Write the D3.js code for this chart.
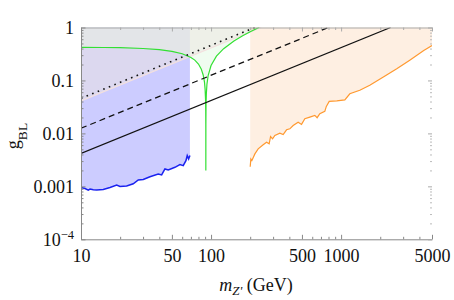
<!DOCTYPE html>
<html><head><meta charset="utf-8">
<script src="https://cdn.jsdelivr.net/npm/d3@7"></script>
<style>
body{margin:0;background:#fff}
svg{display:block}
text{font-family:"Liberation Serif","Times New Roman",serif;fill:#111}
</style>
</head><body>
<svg id="c" width="454" height="300"></svg>
<script>
// ---------- data ----------
const xMajorTicks = [10, 50, 100, 500, 1000, 5000];
const xMajorLabels = ["10", "50", "100", "500", "1000", "5000"];
const xMinorTicks = [20, 30, 40, 60, 70, 80, 90, 200, 300, 400, 600, 700, 800, 900, 2000, 3000, 4000];
const yMajorTicks = [1e-4, 1e-3, 1e-2, 0.1, 1];
const yMajorLabels = ["10^-4", "0.001", "0.01", "0.1", "1"];
const yMinorTicks = [2e-4,3e-4,4e-4,5e-4,6e-4,7e-4,8e-4,9e-4,2e-3,3e-3,4e-3,5e-3,6e-3,7e-3,8e-3,9e-3,0.02,0.03,0.04,0.05,0.06,0.07,0.08,0.09,0.2,0.3,0.4,0.5,0.6,0.7,0.8,0.9];

// blue curve (low-mass search)
const blueM = [10, 10.73, 11.38, 11.73, 12.43, 13.20, 14.83, 16.71, 18.81, 19.94, 22.44, 25.22, 27.56, 30.11, 33.90, 39.26, 41.70, 44.20, 46.86, 52.77, 57.65, 61.10, 64.10, 65.59, 67.24, 68.80];
const blueG = [0.000953, 0.000912, 0.000851, 0.000889, 0.000861, 0.000851, 0.000873, 0.000953, 0.001059, 0.000996, 0.001014, 0.00112, 0.00132, 0.00135, 0.00152, 0.00171, 0.00164, 0.00213, 0.00204, 0.00229, 0.00257, 0.00246, 0.00306, 0.00381, 0.00330, 0.00381];

// orange curve (high-mass search)
const orangeM = [200, 202.3, 206.0, 217.3, 230.3, 251.6, 267.2, 279.8, 286.9, 297.2, 309.5, 338.1, 358.5, 380.7, 403.5, 427.8, 467.4, 496.3, 526.1, 574.8, 628.0, 654.1, 686.1, 749.4, 770, 810, 926.8, 1068, 1167, 1392, 1662, 2128, 2679, 3372, 4319, 5000];
const orangeG = [0.00235, 0.00327, 0.00306, 0.00410, 0.00510, 0.00608, 0.00681, 0.00635, 0.00874, 0.00790, 0.00912, 0.0101, 0.00953, 0.0117, 0.0122, 0.0141, 0.0163, 0.0148, 0.0189, 0.0203, 0.0219, 0.0198, 0.0236, 0.0261, 0.0324, 0.0403, 0.0412, 0.0430, 0.0560, 0.0652, 0.0811, 0.1175, 0.1667, 0.2417, 0.3661, 0.455];

// green curve (Z-pole constraint)
const greenM = [10, 15, 20, 30, 40, 50, 60, 70, 75, 80, 84, 87, 89, 90, 90.7, 91.0, 91.15, 91.19, 91.25, 91.5, 92, 93, 95, 100, 110, 125, 150, 175, 200, 225, 235];
const greenG = [0.422, 0.419, 0.415, 0.401, 0.382, 0.355, 0.320, 0.272, 0.242, 0.204, 0.165, 0.127, 0.093, 0.068, 0.044, 0.027, 0.012, 0.002, 0.015, 0.035, 0.056, 0.085, 0.124, 0.191, 0.287, 0.398, 0.555, 0.696, 0.830, 0.959, 1.01];

// grey excluded region lower edge
const greyM = [10, 243];
const greyG = [0.041, 1];

// reference lines
const solidM = [10, 2400];   const solidG = [0.00417, 1];
const dashedM = [10, 800];   const dashedG = [0.0125, 1];
const dottedM = [10, 217];   const dottedG = [0.046, 1];

// ---------- drawing ----------
const W = 454, H = 300;
const L = 81, R = 432, T = 27.5, B = 239.3;
const svg = d3.select("#c");
const x = d3.scaleLog().domain([10, 5000]).range([L, R]);
const y = d3.scaleLog().domain([1e-4, 1]).range([B, T]);
const zip = (a, b) => a.map((v, i) => [v, b[i]]);
const line = d3.line().x(d => x(d[0])).y(d => y(d[1]));

svg.append("defs").append("clipPath").attr("id", "clip")
  .append("rect").attr("x", L).attr("y", T).attr("width", R - L).attr("height", B - T);
const plot = svg.append("g").attr("clip-path", "url(#clip)");

// filled regions
const bluePoly = zip(blueM, blueG).concat([[blueM[blueM.length - 1], 1.2], [blueM[0], 1.2]]);
plot.append("path").attr("d", line(bluePoly) + "Z").attr("fill", "rgba(0,0,255,0.2)");

const greenPoly = zip(greenM, greenG).concat([[greenM[greenM.length - 1], 1.2], [greenM[0], 1.2]]);
plot.append("path").attr("d", line(greenPoly) + "Z").attr("fill", "rgba(229,250,229,0.57)");

const greyPoly = zip(greyM, greyG).concat([[greyM[greyM.length - 1], 1.2], [greyM[0], 1.2]]);
plot.append("path").attr("d", line(greyPoly) + "Z").attr("fill", "rgba(236,228,224,0.5)");

const orangePoly = zip(orangeM, orangeG).concat([[orangeM[orangeM.length - 1], 1.2], [orangeM[0], 1.2]]);
plot.append("path").attr("d", line(orangePoly) + "Z").attr("fill", "rgba(250,150,60,0.15)");

// edges and curves
plot.append("path").attr("d", line(zip(greyM, greyG))).attr("fill", "none")
  .attr("stroke", "#f3e0de").attr("stroke-width", 1.2);
plot.append("path").attr("d", line(zip(orangeM, orangeG))).attr("fill", "none")
  .attr("stroke", "#ff9930").attr("stroke-width", 1.2);
plot.append("path").attr("d", line(zip(blueM, blueG))).attr("fill", "none")
  .attr("stroke", "#1a22f0").attr("stroke-width", 1.5);
plot.append("path").attr("d", line(zip(greenM, greenG))).attr("fill", "none")
  .attr("stroke", "#33e033").attr("stroke-width", 1.2);

plot.append("path").attr("d", line(zip(solidM, solidG))).attr("fill", "none")
  .attr("stroke", "#111").attr("stroke-width", 1.2);
plot.append("path").attr("d", line(zip(dashedM, dashedG))).attr("fill", "none")
  .attr("stroke", "#111").attr("stroke-width", 1.3).attr("stroke-dasharray", "6,4");
plot.append("path").attr("d", line(zip(dottedM, dottedG))).attr("fill", "none")
  .attr("stroke", "#111").attr("stroke-width", 1.6).attr("stroke-dasharray", "1.6,4.4");

// ---------- axes ----------
function style(g, col) {
  g.selectAll(".domain").attr("stroke", col);
  g.selectAll(".tick line").attr("stroke", col);
}
// bottom
const bx = svg.append("g").attr("transform", `translate(0,${B})`)
  .call(d3.axisBottom(x).tickValues(xMajorTicks).tickFormat((d, i) => xMajorLabels[i])
    .tickSizeInner(-4.5).tickSizeOuter(0).tickPadding(10));
style(bx, "#888");
bx.selectAll("text").attr("font-size", 18).attr("fill", "#111")
  .attr("font-family", "'Liberation Serif', serif");
svg.append("g").attr("transform", `translate(0,${B})`)
  .call(d3.axisBottom(x).tickValues(xMinorTicks).tickFormat("").tickSizeInner(-2.5).tickSizeOuter(0))
  .call(g => { g.select(".domain").remove(); g.selectAll("line").attr("stroke", "#888"); });
// top
svg.append("g").attr("transform", `translate(0,${T})`)
  .call(d3.axisTop(x).tickValues(xMajorTicks).tickFormat("").tickSizeInner(-4).tickSizeOuter(0))
  .call(g => style(g, "#aaa"));
svg.append("g").attr("transform", `translate(0,${T})`)
  .call(d3.axisTop(x).tickValues(xMinorTicks).tickFormat("").tickSizeInner(-2.5).tickSizeOuter(0))
  .call(g => { g.select(".domain").remove(); g.selectAll("line").attr("stroke", "#aaa"); });
// left
const ly = svg.append("g").attr("transform", `translate(${L},0)`)
  .call(d3.axisLeft(y).tickValues(yMajorTicks).tickFormat((d, i) => yMajorLabels[i])
    .tickSizeInner(-4.5).tickSizeOuter(0).tickPadding(7));
style(ly, "#888");
ly.selectAll("text").attr("font-size", 18).attr("fill", "#111")
  .attr("font-family", "'Liberation Serif', serif")
  .each(function (d) {
    if (d === 1e-4) {
      const t = d3.select(this).text("");
      t.append("tspan").text("10");
      t.append("tspan").attr("font-size", 12.5).attr("dy", "-0.55em").text("\u22124");
    }
  });
svg.append("g").attr("transform", `translate(${L},0)`)
  .call(d3.axisLeft(y).tickValues(yMinorTicks).tickFormat("").tickSizeInner(-2.5).tickSizeOuter(0))
  .call(g => { g.select(".domain").remove(); g.selectAll("line").attr("stroke", "#888"); });
// right (ticks only)
svg.append("g").attr("transform", `translate(${R},0)`)
  .call(d3.axisRight(y).tickValues(yMajorTicks).tickFormat("").tickSizeInner(-4).tickSizeOuter(0))
  .call(g => { g.select(".domain").remove(); g.selectAll("line").attr("stroke", "#aaa"); });
svg.append("g").attr("transform", `translate(${R},0)`)
  .call(d3.axisRight(y).tickValues(yMinorTicks).tickFormat("").tickSizeInner(-2).tickSizeOuter(0))
  .call(g => { g.select(".domain").remove(); g.selectAll("line").attr("stroke", "#bbb"); });

// axis titles
const xt = svg.append("text").attr("x", 256).attr("y", 291).attr("text-anchor", "middle").attr("font-size", 18);
xt.append("tspan").attr("font-style", "italic").text("m");
xt.append("tspan").attr("font-style", "italic").attr("font-size", 13).attr("dy", 4).text("Z'");
xt.append("tspan").attr("dy", -4).text(" (GeV)");

const yt = svg.append("text").attr("transform", "translate(19,136) rotate(-90)")
  .attr("text-anchor", "middle").attr("font-size", 18);
yt.append("tspan").text("g");
yt.append("tspan").attr("font-size", 13.5).attr("dy", 8).text("BL");
</script>
</body></html>
